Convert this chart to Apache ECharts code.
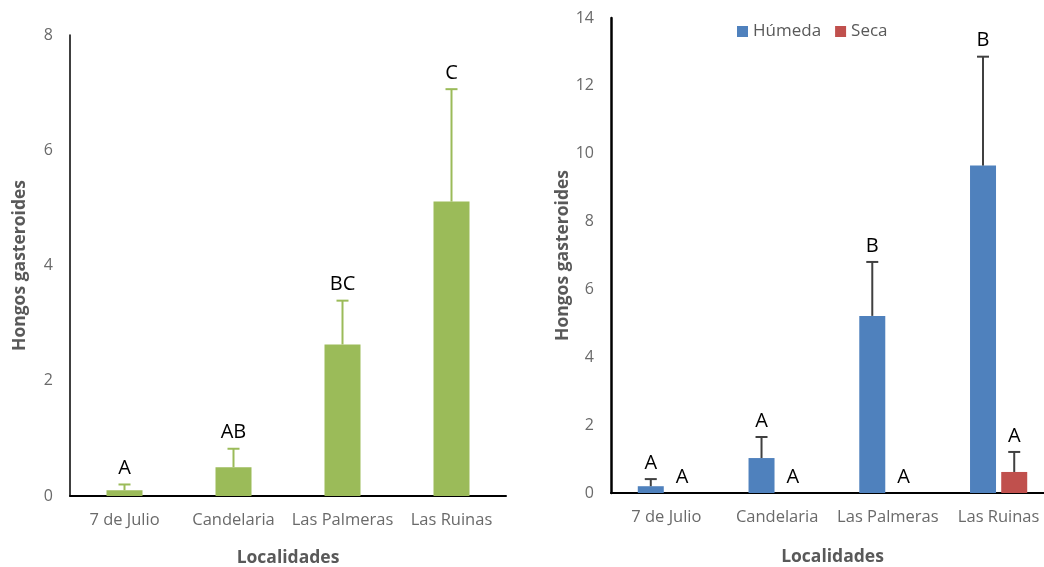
<!DOCTYPE html>
<html>
<head>
<meta charset="utf-8">
<script src="https://cdn.jsdelivr.net/npm/echarts@6/dist/echarts.min.js"></script>
<style>
  html, body { margin: 0; padding: 0; background: #fff; }
  #chart { width: 1044px; height: 567px; }
</style>
</head>
<body>
<div id="chart"></div>
<script>
// Localities sampled
const categories = ['7 de Julio', 'Candelaria', 'Las Palmeras', 'Las Ruinas'];

// Left panel: all samples pooled
const totalMean = [0.1, 0.5, 2.63, 5.11];
const totalErr = [0.1, 0.32, 0.76, 1.95];
const totalLetters = ['A', 'AB', 'BC', 'C'];

// Right panel: by season
const humedaMean = [0.2, 1.03, 5.22, 9.65];
const humedaErr = [0.21, 0.62, 1.59, 3.21];
const humedaLetters = ['A', 'A', 'B', 'B'];

const secaMean = [0, 0, 0, 0.62];
const secaErr = [0, 0, 0, 0.59];
const secaLetters = ['A', 'A', 'A', 'A'];

const leftTicks = [0, 2, 4, 6, 8];
const rightTicks = [0, 2, 4, 6, 8, 10, 12, 14];

const FONT = '"Open Sans", "Liberation Sans", sans-serif';
const GREY = '#595959';

// Upward error bar with a significance letter above it
function errorSeries(xi, yi, means, errs, letters, offset, color) {
  return {
    type: 'custom',
    xAxisIndex: xi,
    yAxisIndex: yi,
    z: 5,
    silent: true,
    data: means.map((m, i) => [i, m, m + errs[i], errs[i]]),
    encode: { x: 0, y: [1, 2] },
    renderItem(params, api) {
      const i = api.value(0);
      const base = api.coord([i, api.value(1)]);
      const top = api.coord([i, api.value(2)]);
      const x = base[0] + offset;
      const children = [];
      if (api.value(3) > 0) {
        children.push({ type: 'line', shape: { x1: x, y1: base[1], x2: x, y2: top[1] },
          style: { stroke: color, lineWidth: 2 } });
        children.push({ type: 'line', shape: { x1: x - 6, y1: top[1], x2: x + 6, y2: top[1] },
          style: { stroke: color, lineWidth: 2 } });
      }
      children.push({ type: 'text', style: {
        text: letters[params.dataIndex], x: x, y: top[1] - 6,
        align: 'center', verticalAlign: 'bottom',
        fill: '#000', font: '20px ' + FONT } });
      return { type: 'group', children };
    }
  };
}

function xAxisCfg(gridIndex, gap) {
  return {
    type: 'category', gridIndex, data: categories,
    name: 'Localidades', nameLocation: 'middle', nameGap: gap,
    nameTextStyle: { color: GREY, fontSize: 17.5, fontWeight: 'bold', fontFamily: FONT },
    axisLine: { lineStyle: { color: '#000', width: 2 } },
    axisTick: { show: false },
    axisLabel: { color: '#6a6a6a', fontSize: 16.5, fontFamily: FONT, margin: 16, interval: 0 },
    splitLine: { show: false }
  };
}

function yAxisCfg(gridIndex, ticks, gap, lw) {
  return {
    type: 'value', gridIndex,
    min: ticks[0], max: ticks[ticks.length - 1], interval: ticks[1] - ticks[0],
    name: 'Hongos gasteroides', nameLocation: 'middle', nameGap: gap, nameRotate: 90,
    nameTextStyle: { color: GREY, fontSize: 17.5, fontWeight: 'bold', fontFamily: FONT },
    axisLine: { show: true, lineStyle: { color: '#000', width: lw } },
    axisTick: { show: false },
    axisLabel: { color: '#6a6a6a', fontSize: 16, fontFamily: FONT, margin: 17 },
    splitLine: { show: false }
  };
}

const chart = echarts.init(document.getElementById('chart'));
chart.setOption({
  animation: false,
  backgroundColor: '#fff',
  legend: {
    data: ['Húmeda', 'Seca'],
    left: 737, top: 21,
    icon: 'rect', itemWidth: 11, itemHeight: 11, itemGap: 14, padding: [2, 0, 0, 0],
    textStyle: { color: GREY, fontSize: 17, fontFamily: FONT }
  },
  grid: [
    { left: 70, top: 35, width: 436, bottom: 71, containLabel: false, outerBoundsMode: 'none' },
    { left: 611, top: 18, width: 443, bottom: 74, containLabel: false, outerBoundsMode: 'none' }
  ],
  xAxis: [xAxisCfg(0, 53), xAxisCfg(1, 55)],
  yAxis: [yAxisCfg(0, leftTicks, 41, 1.5), yAxisCfg(1, rightTicks, 38, 2.5)],
  series: [
    { name: 'Total', type: 'bar', xAxisIndex: 0, yAxisIndex: 0, data: totalMean,
      barWidth: 36, itemStyle: { color: '#9BBB59' } },
    errorSeries(0, 0, totalMean, totalErr, totalLetters, 0, '#9BBB59'),
    { name: 'Húmeda', type: 'bar', xAxisIndex: 1, yAxisIndex: 1, data: humedaMean,
      barWidth: 26, barGap: '20%', itemStyle: { color: '#4F81BD' } },
    { name: 'Seca', type: 'bar', xAxisIndex: 1, yAxisIndex: 1, data: secaMean,
      barWidth: 26, barGap: '20%', itemStyle: { color: '#C0504D' } },
    errorSeries(1, 1, humedaMean, humedaErr, humedaLetters, -15.6, '#404040'),
    errorSeries(1, 1, secaMean, secaErr, secaLetters, 15.6, '#404040')
  ]
});
</script>
</body>
</html>
